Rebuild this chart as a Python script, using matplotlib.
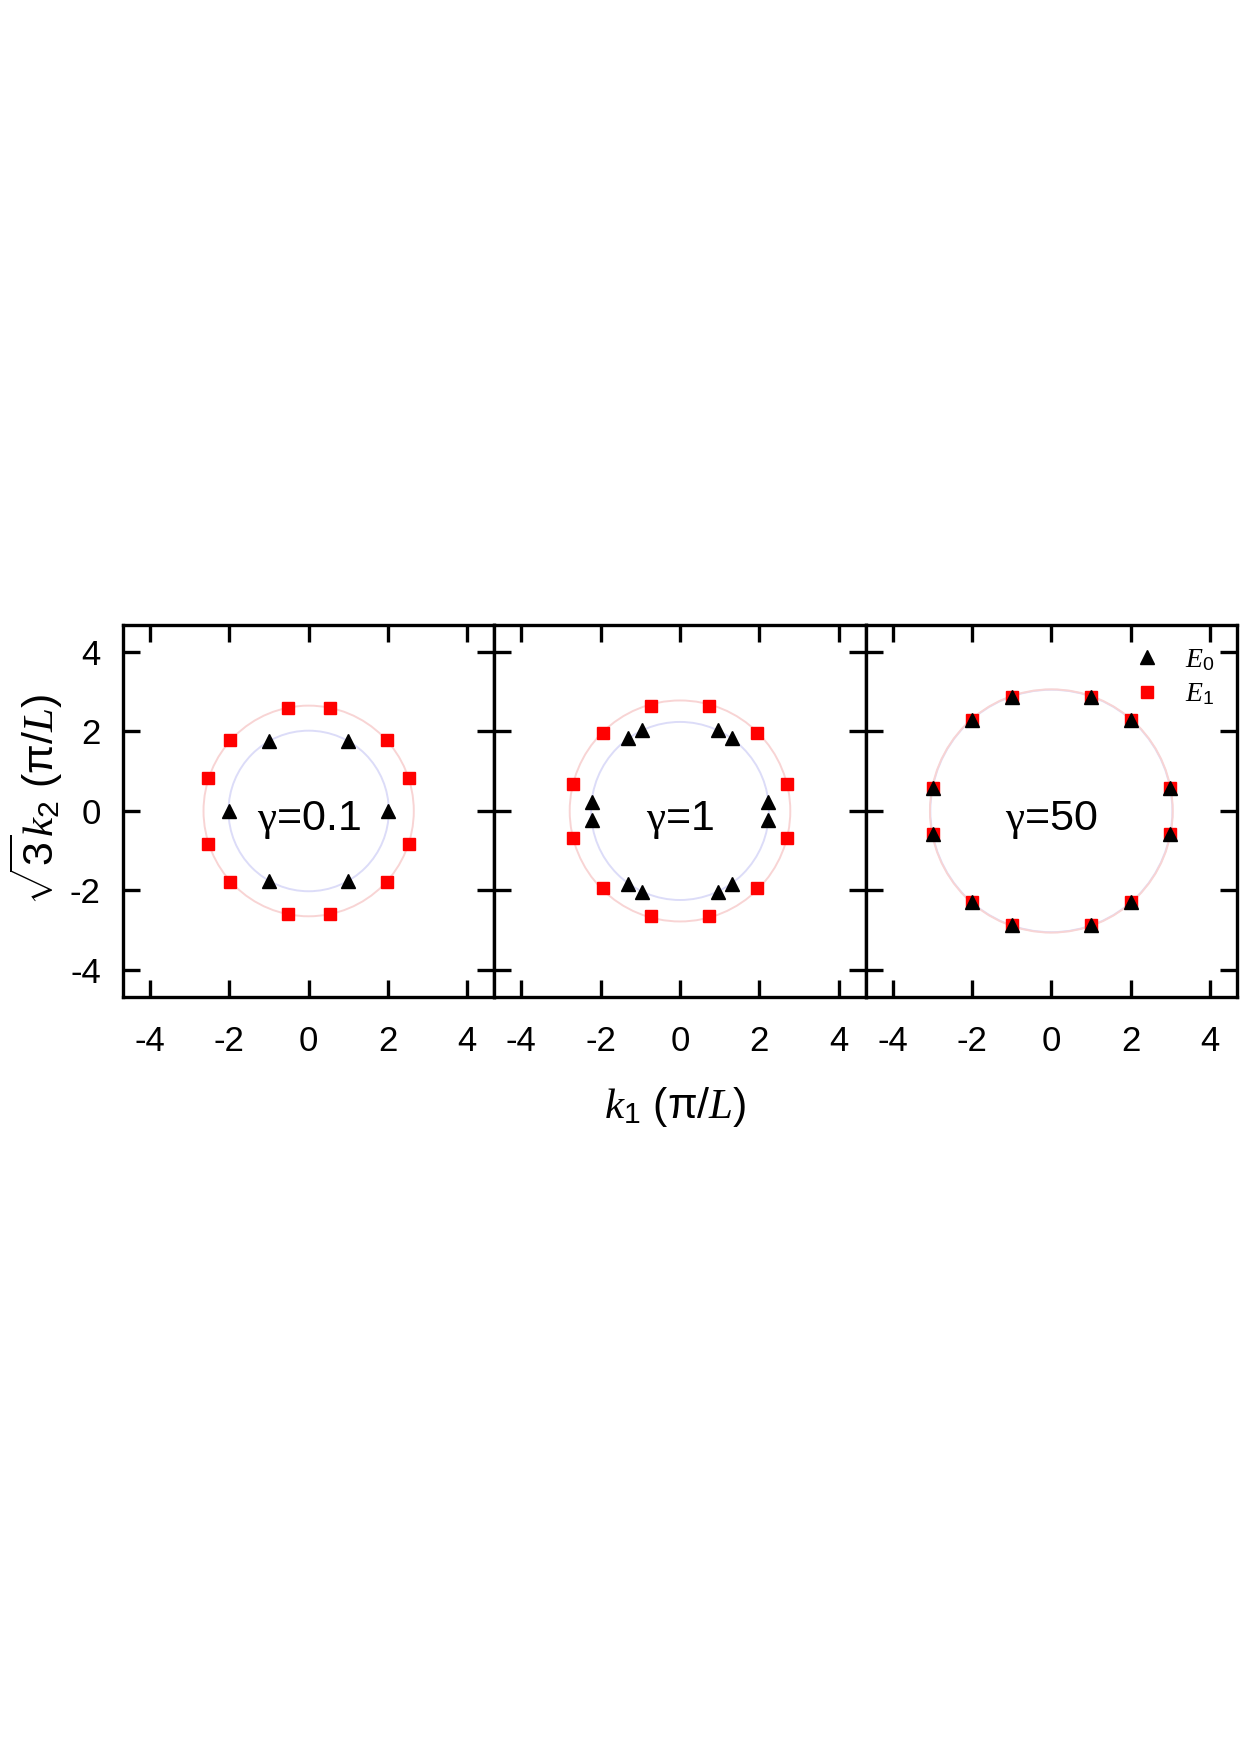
import matplotlib
matplotlib.use("Agg")
from matplotlib import pyplot as plt
from matplotlib.patches import Circle

plt.rcParams['font.family'] = ['Liberation Sans', 'DejaVu Sans']
plt.rcParams['mathtext.fontset'] = 'custom'
plt.rcParams['mathtext.rm'] = 'Liberation Sans'
plt.rcParams['mathtext.it'] = 'Liberation Serif:italic'
plt.rcParams['mathtext.bf'] = 'Liberation Sans:bold'
plt.rcParams['mathtext.sf'] = 'Liberation Sans'
plt.rcParams['mathtext.cal'] = 'Liberation Serif'   # upright serif gamma
plt.rcParams['axes.unicode_minus'] = False

# panel labels
gammas = [r"$\mathcal{\gamma}$=0.1", r"$\mathcal{\gamma}$=1", r"$\mathcal{\gamma}$=50"]

# gamma = 0.1
g01_E0_k1 = [-2.0, -1.0, 1.0, 2.0, 1.0, -1.0]
g01_E0_k2 = [0.0, 1.75, 1.75, 0.0, -1.75, -1.75]
g01_E1_k1 = [-0.53, 0.53, 1.98, 2.53, 2.53, 1.98, 0.53, -0.53, -1.98, -2.53, -2.53, -1.98]
g01_E1_k2 = [2.6, 2.6, 1.78, 0.82, -0.82, -1.78, -2.6, -2.6, -1.78, -0.82, 0.82, 1.78]

# gamma = 1
g1_E0_k1 = [-0.95, -1.3, -2.23, -2.23, -1.3, -0.95, 0.95, 1.3, 2.23, 2.23, 1.3, 0.95]
g1_E0_k2 = [2.04, 1.84, 0.22, -0.22, -1.84, -2.04, -2.04, -1.84, -0.22, 0.22, 1.84, 2.04]
g1_E1_k1 = [-0.74, 0.74, 1.93, 2.69, 2.69, 1.93, 0.74, -0.74, -1.93, -2.69, -2.69, -1.93]
g1_E1_k2 = [2.65, 2.65, 1.95, 0.67, -0.67, -1.95, -2.65, -2.65, -1.95, -0.67, 0.67, 1.95]

# gamma = 50
g50_E0_k1 = [-1.0, 1.0, 2.0, 2.98, 2.98, 2.0, 1.0, -1.0, -2.0, -2.98, -2.98, -2.0]
g50_E0_k2 = [2.87, 2.87, 2.29, 0.57, -0.57, -2.29, -2.87, -2.87, -2.29, -0.57, 0.57, 2.29]
g50_E1_k1 = [-1.0, 1.0, 2.0, 2.98, 2.98, 2.0, 1.0, -1.0, -2.0, -2.98, -2.98, -2.0]
g50_E1_k2 = [2.86, 2.86, 2.28, 0.57, -0.57, -2.28, -2.86, -2.86, -2.28, -0.57, 0.57, 2.28]

# circle radii (E0 blue-ish, E1 red-ish)
r_E0 = [2.02, 2.24, 3.05]
r_E1 = [2.65, 2.78, 3.06]

E0_sets = [(g01_E0_k1, g01_E0_k2), (g1_E0_k1, g1_E0_k2), (g50_E0_k1, g50_E0_k2)]
E1_sets = [(g01_E1_k1, g01_E1_k2), (g1_E1_k1, g1_E1_k2), (g50_E1_k1, g50_E1_k2)]

ticks = [-4, -2, 0, 2, 4]
lim = 4.68

fig, axs = plt.subplots(1, 3, figsize=(12.41, 17.54), dpi=100, sharey=True)
fig.subplots_adjust(left=0.0991, right=0.9968, bottom=0.4316, top=0.6437, wspace=0)

for i, ax in enumerate(axs):
    ax.add_patch(Circle((0, 0), r_E0[i], fill=False, ec='#dcdcf8', lw=1.4, zorder=1))
    ax.add_patch(Circle((0, 0), r_E1[i], fill=False, ec='#f8d4d4', lw=1.4, zorder=1))
    # red squares first so triangles sit on top
    ax.plot(E1_sets[i][0], E1_sets[i][1], 's', color='#ff0000', ms=8, ls='none',
            zorder=3, label='$E_1$')
    ax.plot(E0_sets[i][0], E0_sets[i][1], '^', color='black', ms=9.5, ls='none',
            zorder=4, label='$E_0$')
    ax.text(0, -0.08, gammas[i], fontsize=31, ha='center', va='center_baseline', zorder=5)

    ax.set_xlim(-lim, lim)
    ax.set_ylim(-lim, lim)
    ax.set_xticks(ticks)
    ax.set_yticks(ticks)
    ax.tick_params(direction='in', length=12, width=2.4, top=True, right=True,
                   labelsize=25)
    ax.tick_params(axis='x', pad=20)
    ax.tick_params(axis='y', pad=16)
    for s in ax.spines.values():
        s.set_linewidth(2.4)

# legend in the last panel: triangle first, then square
h, l = axs[2].get_legend_handles_labels()
axs[2].legend([h[1], h[0]], [l[1], l[0]], loc='upper right', bbox_to_anchor=(1.0, 1.0),
              frameon=False, fontsize=20, handlelength=1.0, handletextpad=0.9,
              labelspacing=0.3, borderaxespad=0.4, numpoints=1)

fig.text(675 / 1241, 1 - 1107 / 1754, '$k_1$ (π/$L$)', fontsize=31, ha='center', va='center')
fig.text(36 / 1241, 1 - 800 / 1754, r'$\sqrt{3}k_2$ (π/$L$)', fontsize=31, ha='center',
         va='center', rotation=90)

fig.savefig('out.png', dpi=100)
